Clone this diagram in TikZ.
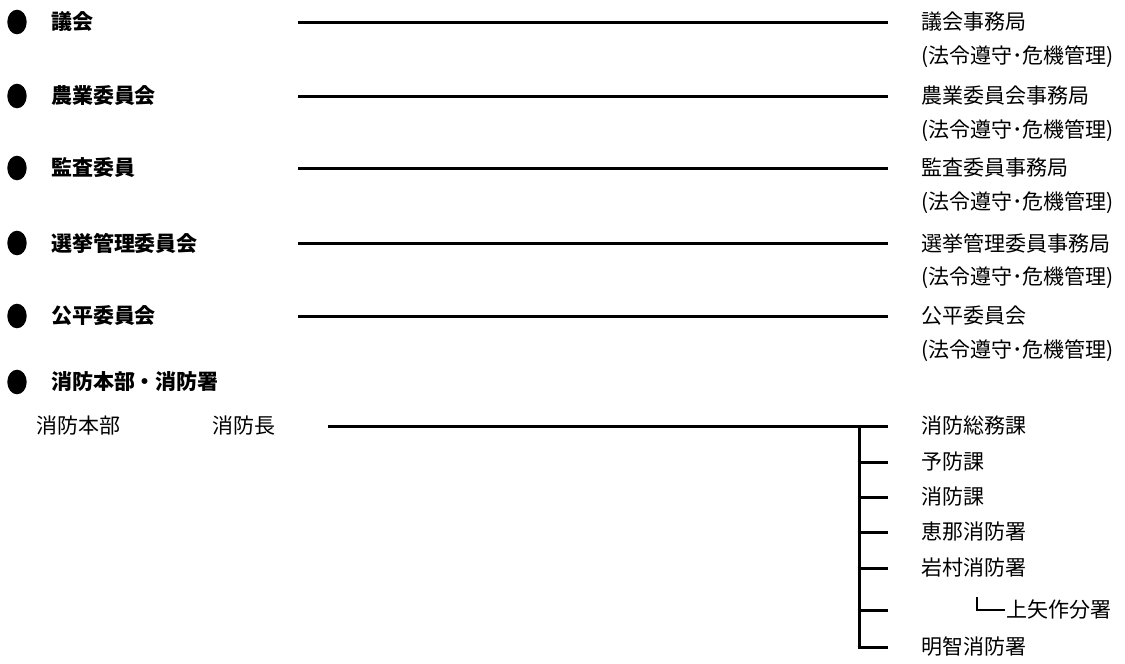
\documentclass[tikz,border=0pt]{standalone}
\usepackage{fontspec}
\setmainfont{Noto Sans CJK JP}
\begin{document}
\begin{tikzpicture}[x=1pt,y=-1pt,
  every node/.style={inner sep=0pt,outer sep=0pt,anchor=west,font=\fontsize{21}{24}\selectfont},
  head/.style={font=\fontsize{21}{24}\selectfont\bfseries},
  dot/.style={fill=black},
  link/.style={line width=3pt},
  sublink/.style={line width=2.6pt}]
\useasboundingbox (0,0) rectangle (1125,664);
% bullets and headings
\foreach \n/\y/\t in {1/22/議会,2/96/農業委員会,3/168/監査委員,4/243/選挙管理委員会,5/316/公平委員会,6/382/消防本部・消防署}{
  \coordinate (b\n) at (17,\y);
  \fill[dot] (b\n) ellipse [x radius=9.7pt, y radius=12.3pt];
  \node[head] (h\n) at (51,\y) {\t};
}
% right side
\foreach \n/\y/\t in {1/22/議会事務局,2/96/農業委員会事務局,3/168/監査委員事務局,4/243/選挙管理委員事務局,5/316/公平委員会}{
  \node (r\n) at (921,\y) {\t};
  \node (s\n) at (921,\y+35) {(法令遵守･危機管理)};
  \coordinate (ls\n) at (298,\y);
  \coordinate (le\n) at (888,\y);
  \draw[link] (ls\n) -- (le\n);
}
% fire department
\node (hq) at (36,426) {消防本部};
\node (chief) at (212,426) {消防長};
\coordinate (fs) at (328,426);
\coordinate (fe) at (888,426);
\draw[link] (fs) -- (fe);
\coordinate (vt) at (859,426);
\coordinate (vb) at (859,647);
\draw[link] (vt) -- ([yshift=1.5pt]vb);
\foreach \n/\y/\t in {1/426/消防総務課,2/462/予防課,3/497/消防課,4/532/恵那消防署,5/568/岩村消防署,7/647/明智消防署}{
  \node (d\n) at (921,\y) {\t};
  \coordinate (bs\n) at (859,\y);
  \coordinate (be\n) at (888,\y);
  \draw[link] ([xshift=-1.5pt]bs\n) -- (be\n);
}
\coordinate (bs6) at (859,610);
\coordinate (be6) at (888,610);
\draw[link] ([xshift=-1.5pt]bs6) -- (be6);
\node (d6) at (1006,610) {上矢作分署};
\coordinate (kt) at (977,597);
\coordinate (kc) at (977,610);
\coordinate (ke) at (1005,610);
\draw[sublink] (kt) -- (kc) -- (ke);
\end{tikzpicture}
\end{document}
